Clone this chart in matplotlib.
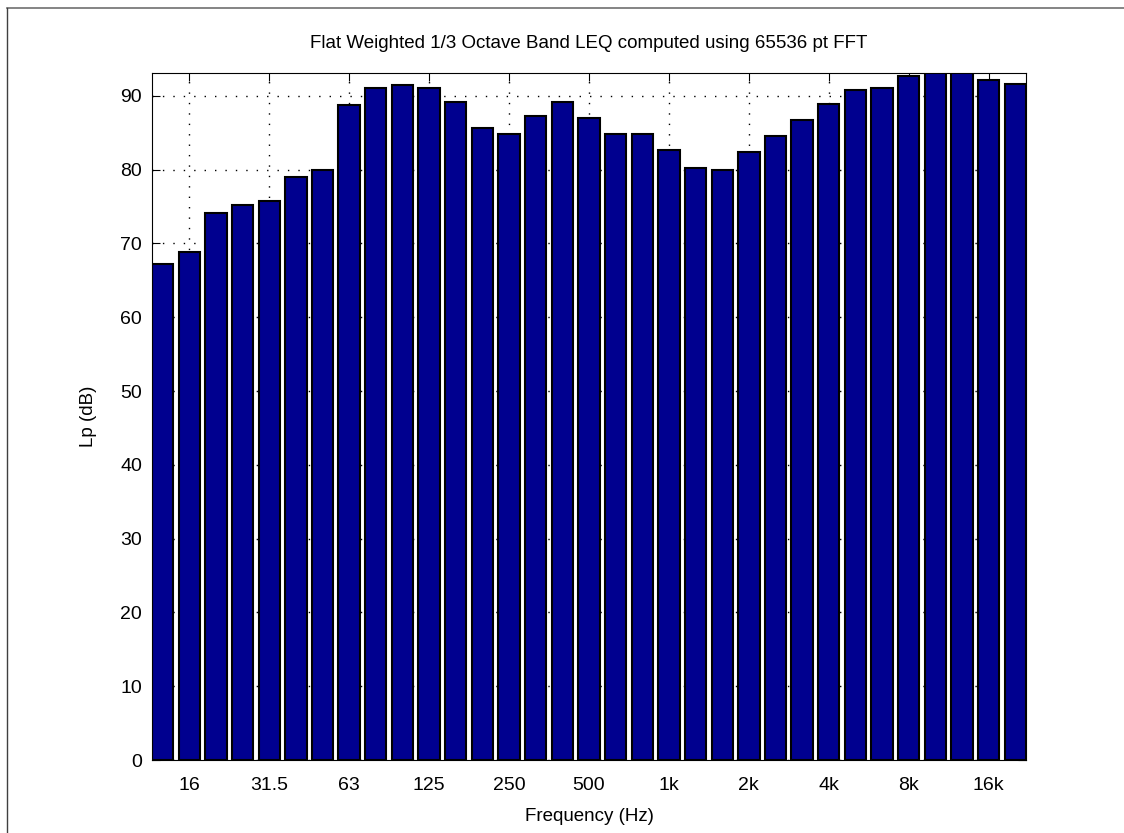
import matplotlib
matplotlib.use("Agg")
import matplotlib.pyplot as plt
from matplotlib.lines import Line2D

# 1/3 octave band centres and measured Lp (dB)
bandas = ["12.5", "16", "20", "25", "31.5", "40", "50", "63", "80", "100",
          "125", "160", "200", "250", "315", "400", "500", "630", "800", "1k",
          "1.25k", "1.6k", "2k", "2.5k", "3.15k", "4k", "5k", "6.3k", "8k", "10k",
          "12.5k", "16k", "20k"]
lp = [67.2, 68.8, 74.1, 75.2, 75.7, 79.0, 80.0, 88.8, 91.0, 91.5,
      91.0, 89.2, 85.6, 84.8, 87.3, 89.2, 87.0, 84.8, 84.8, 82.7,
      80.2, 79.9, 82.4, 84.6, 86.7, 88.9, 90.8, 91.0, 92.7, 94.5,
      94.0, 92.1, 91.6]
etiquetas = ["16", "31.5", "63", "125", "250", "500", "1k", "2k", "4k", "8k", "16k"]
yticks = [0, 10, 20, 30, 40, 50, 60, 70, 80, 90]

plt.rcParams["font.family"] = ["Liberation Sans", "DejaVu Sans"]

fig = plt.figure(figsize=(11.24, 8.33), dpi=100)
ax = fig.add_axes([0.1352, 0.0876, 0.7776, 0.8248])

x = list(range(1, len(lp) + 1))
ax.bar(x, lp, width=0.8, color="#00008F", edgecolor="black", linewidth=1.5, zorder=2)

ax.set_xlim(0.6, len(lp) + 0.4)
ax.set_ylim(0, 93.1)
pos = [x[bandas.index(e)] for e in etiquetas]
ax.set_xticks(pos)
ax.set_xticklabels(etiquetas)
ax.set_yticks(yticks)
ax.set_axisbelow(True)
ax.grid(True, color="black", lw=1.0, ls=(0, (1, 6.5)))
ax.tick_params(direction="in", length=6, width=0.8, top=True, right=True,
               labelsize=14, colors="black")
ax.tick_params(axis="x", pad=12)
ax.tick_params(axis="y", pad=7)
for s in ax.spines.values():
    s.set_linewidth(0.8)

ax.set_xlabel("Frequency (Hz)", fontsize=13.5, labelpad=10)
ax.set_ylabel("Lp (dB)", fontsize=13.5, labelpad=17)
ax.set_title("Flat Weighted 1/3 Octave Band LEQ computed using 65536 pt FFT",
             fontsize=13.5, pad=18)

# marco de la ventana
fig.add_artist(Line2D([7 / 1124, 1], [1 - 8 / 833, 1 - 8 / 833], color="#707070", lw=1.2))
fig.add_artist(Line2D([7 / 1124, 7 / 1124], [0, 1 - 8 / 833], color="#404040", lw=1.0))

fig.savefig("out.png", dpi=100, facecolor="white")
